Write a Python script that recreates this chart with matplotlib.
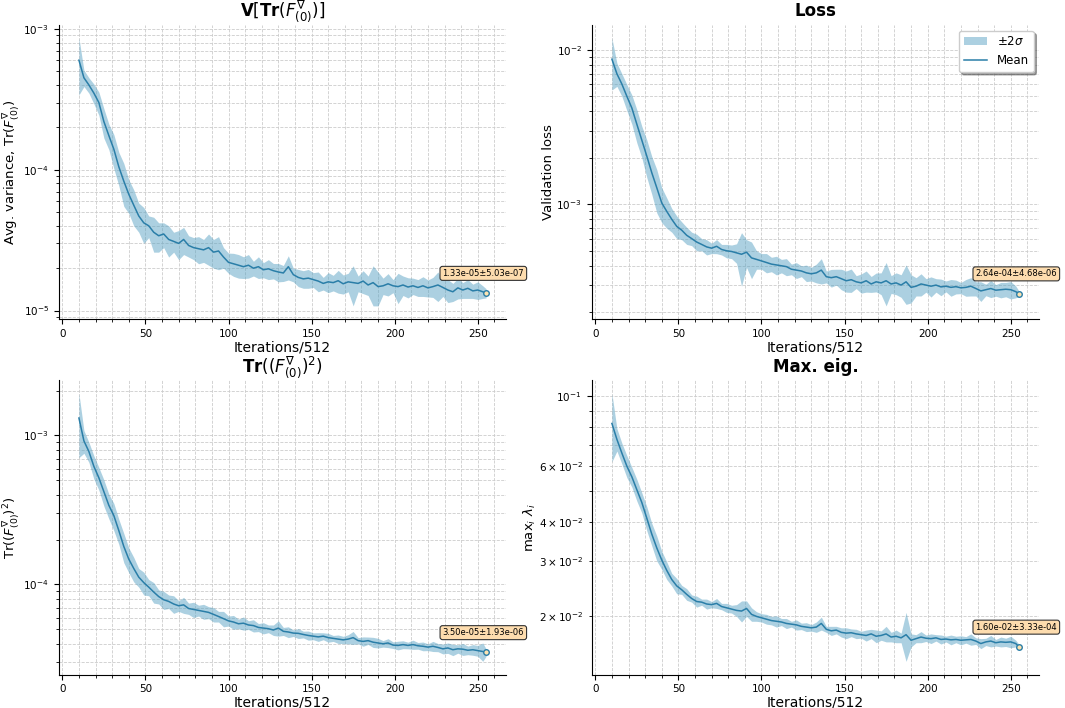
#! /usr/bin/python3

import matplotlib as mpl

## agg backend is used to create plot as a .png file
mpl.use('agg')

import matplotlib.pyplot as plt
from matplotlib.ticker import MultipleLocator
from matplotlib.patches import Patch
from matplotlib.lines import Line2D

iterations = list(range(10, 254, 3)) + [255]

# V[Tr(F)]  (values in 1e-5)
var_mean = [60, 45, 40, 35, 30, 22, 17.5, 14, 10.5, 8.3,
            6.7, 5.6, 4.7, 4.2, 4.0, 3.6, 3.4, 3.5, 3.2, 3.1,
            3.0, 3.2, 2.9, 2.8, 2.75, 2.7, 2.8, 2.6, 2.65, 2.4,
            2.2, 2.15, 2.1, 2.05, 2.1, 2.0, 2.05, 1.95, 1.98, 1.92,
            1.88, 1.85, 2.05, 1.8, 1.72, 1.68, 1.70, 1.66, 1.62, 1.56,
            1.60, 1.58, 1.63, 1.55, 1.60, 1.58, 1.56, 1.62, 1.52, 1.58,
            1.48, 1.50, 1.55, 1.50, 1.48, 1.52, 1.47, 1.50, 1.46, 1.50,
            1.45, 1.48, 1.52, 1.46, 1.40, 1.36, 1.45, 1.40, 1.44, 1.38,
            1.40, 1.36, 1.33]
var_std = [13, 3, 2.5, 2.8, 2.8, 2.6, 1.8, 1.9, 1.4, 1.4,
           0.9, 0.8, 0.55, 0.6, 0.35, 0.5, 0.4, 0.35, 0.4, 0.25,
           0.35, 0.35, 0.25, 0.25, 0.3, 0.25, 0.35, 0.3, 0.35, 0.2,
           0.18, 0.2, 0.2, 0.18, 0.2, 0.12, 0.18, 0.12, 0.16, 0.12,
           0.14, 0.12, 0.2, 0.1, 0.12, 0.12, 0.13, 0.1, 0.13, 0.08,
           0.13, 0.1, 0.15, 0.12, 0.12, 0.25, 0.1, 0.15, 0.12, 0.25,
           0.2, 0.1, 0.14, 0.08, 0.18, 0.12, 0.12, 0.1, 0.1, 0.12,
           0.1, 0.12, 0.18, 0.1, 0.13, 0.1, 0.12, 0.09, 0.11, 0.08,
           0.1, 0.07, 0.05]

# validation loss  (values in 1e-4)
loss_mean = [87, 70, 60, 50, 42, 33, 26, 20.5, 16, 12.8,
             10.2, 9.0, 8.0, 7.2, 6.8, 6.3, 6.0, 5.7, 5.5, 5.3,
             5.2, 5.35, 5.1, 5.0, 4.95, 4.85, 4.75, 4.9, 4.5, 4.4,
             4.3, 4.2, 4.1, 4.05, 4.0, 3.95, 3.8, 3.75, 3.7, 3.6,
             3.55, 3.6, 3.75, 3.4, 3.35, 3.4, 3.3, 3.2, 3.25, 3.15,
             3.1, 3.2, 3.05, 3.15, 3.1, 3.2, 3.05, 3.1, 3.0, 3.15,
             2.9, 2.95, 3.05, 3.0, 2.95, 3.0, 2.92, 2.95, 2.9, 2.93,
             2.88, 2.9, 2.95, 2.85, 2.75, 2.8, 2.85, 2.78, 2.8, 2.82,
             2.8, 2.72, 2.64]
loss_std = [16, 6, 5, 4.8, 4.5, 4.0, 3.0, 2.8, 2.2, 2.0,
            1.3, 1.0, 0.7, 0.6, 0.45, 0.4, 0.3, 0.35, 0.25, 0.3,
            0.2, 0.28, 0.2, 0.25, 0.25, 0.35, 0.9, 0.5, 0.6, 0.3,
            0.25, 0.3, 0.22, 0.28, 0.2, 0.25, 0.15, 0.22, 0.15, 0.22,
            0.18, 0.25, 0.35, 0.15, 0.22, 0.2, 0.25, 0.25, 0.28, 0.15,
            0.22, 0.25, 0.18, 0.22, 0.25, 0.5, 0.2, 0.25, 0.25, 0.45,
            0.3, 0.2, 0.25, 0.15, 0.22, 0.15, 0.18, 0.12, 0.18, 0.15,
            0.12, 0.18, 0.2, 0.15, 0.2, 0.12, 0.18, 0.12, 0.16, 0.15,
            0.18, 0.12, 0.05]

# Tr(F^2)  (values in 1e-5)
trsq_mean = [131, 92, 78, 62, 52, 42, 34, 29, 23, 18,
             14.8, 12.8, 11.2, 10.3, 9.6, 8.9, 8.3, 7.9, 7.7, 7.4,
             7.2, 7.3, 6.9, 6.8, 6.7, 6.6, 6.5, 6.3, 6.1, 5.9,
             5.7, 5.6, 5.45, 5.5, 5.35, 5.3, 5.15, 5.1, 5.05, 4.95,
             5.1, 4.85, 4.8, 4.72, 4.7, 4.62, 4.55, 4.5, 4.45, 4.5,
             4.4, 4.35, 4.3, 4.25, 4.3, 4.4, 4.2, 4.15, 4.2, 4.1,
             4.05, 4.0, 4.05, 3.92, 3.9, 3.95, 3.9, 3.95, 3.88, 3.85,
             3.8, 3.85, 3.78, 3.7, 3.75, 3.65, 3.7, 3.68, 3.62, 3.65,
             3.6, 3.55, 3.5]
trsq_std = [30, 8, 6, 5.5, 4.5, 4.2, 3.2, 3.0, 2.2, 2.0,
            1.4, 1.2, 0.8, 0.9, 0.6, 0.7, 0.45, 0.55, 0.4, 0.5,
            0.3, 0.45, 0.3, 0.4, 0.28, 0.38, 0.3, 0.35, 0.25, 0.35,
            0.22, 0.3, 0.2, 0.28, 0.18, 0.25, 0.16, 0.22, 0.15, 0.2,
            0.3, 0.15, 0.2, 0.12, 0.18, 0.12, 0.16, 0.12, 0.15, 0.12,
            0.15, 0.1, 0.14, 0.12, 0.15, 0.22, 0.1, 0.15, 0.12, 0.16,
            0.15, 0.1, 0.14, 0.1, 0.13, 0.12, 0.1, 0.14, 0.1, 0.13,
            0.1, 0.15, 0.12, 0.14, 0.15, 0.16, 0.12, 0.17, 0.12, 0.15,
            0.15, 0.25, 0.1]

# max eigenvalue  (values in 1e-3)
eig_mean = [82, 73, 66, 60, 55.5, 50.5, 46, 41, 36.5, 33,
            30.2, 28.0, 26.2, 25.0, 24.3, 23.5, 22.8, 22.3, 22.2, 21.9,
            21.8, 22.0, 21.5, 21.3, 21.1, 20.9, 20.8, 21.2, 20.3, 20.0,
            19.8, 19.6, 19.4, 19.3, 19.2, 19.0, 18.9, 18.8, 18.6, 18.5,
            18.4, 18.5, 19.0, 18.2, 18.0, 18.1, 17.8, 17.7, 17.75, 17.6,
            17.5, 17.4, 17.6, 17.3, 17.4, 17.6, 17.2, 17.3, 17.1, 17.5,
            16.8, 17.0, 17.2, 17.05, 17.0, 17.1, 16.9, 16.95, 16.85, 16.9,
            16.8, 16.85, 16.9, 16.7, 16.4, 16.6, 16.7, 16.5, 16.6, 16.55,
            16.6, 16.4, 16.0]
eig_std = [10, 3, 2.5, 2.4, 2.0, 2.0, 1.7, 1.8, 1.5, 1.5,
           1.0, 0.9, 0.6, 0.7, 0.4, 0.5, 0.3, 0.45, 0.25, 0.4,
           0.25, 0.4, 0.25, 0.35, 0.3, 0.45, 0.8, 0.6, 0.5, 0.35,
           0.3, 0.35, 0.3, 0.4, 0.25, 0.35, 0.2, 0.35, 0.22, 0.3,
           0.22, 0.35, 0.45, 0.2, 0.3, 0.25, 0.3, 0.35, 0.25, 0.3,
           0.22, 0.35, 0.3, 0.4, 0.3, 0.5, 0.3, 0.4, 0.3, 1.55,
           0.4, 0.25, 0.35, 0.2, 0.3, 0.2, 0.28, 0.18, 0.3, 0.2,
           0.28, 0.2, 0.35, 0.2, 0.3, 0.22, 0.35, 0.2, 0.3, 0.25,
           0.35, 0.2, 0.15]

annotations = ['1.33e-05\u00b15.03e-07', '2.64e-04\u00b14.68e-06',
               '3.50e-05\u00b11.93e-06', '1.60e-02\u00b13.33e-04']

LINE = '#2a7ea8'
BAND = '#5aa3c4'


def plot_panel(ax, mean, std, scale, title, ylabel, note, legend=False):
    m = [v * scale for v in mean]
    s = [v * scale for v in std]
    lo = [a - 2 * b for a, b in zip(m, s)]
    hi = [a + 2 * b for a, b in zip(m, s)]

    ax.fill_between(iterations, lo, hi, color=BAND, alpha=0.5, linewidth=0)
    ax.plot(iterations, m, color=LINE, linewidth=1.1)
    ax.plot(iterations[-1], m[-1], 'o', ms=4, mfc='#fde3b0', mec=LINE, mew=1)
    ax.annotate(note, (iterations[-1], m[-1]), xytext=(-2, 11),
                textcoords='offset points', ha='center', va='bottom',
                fontsize=6, annotation_clip=False,
                bbox=dict(boxstyle='round,pad=0.3', fc='#fddcae', ec='#333333', lw=0.8))

    ax.set_yscale('log')
    ax.set_title(title, fontsize=12, fontweight='bold')
    ax.set_ylabel(ylabel, fontsize=9.5, labelpad=1)
    ax.set_xlabel('Iterations/512', fontsize=10, labelpad=1)

    ax.xaxis.set_major_locator(MultipleLocator(50))
    ax.xaxis.set_minor_locator(MultipleLocator(10))
    ax.tick_params(which='both', labelsize=7.5)
    ax.grid(which='both', linestyle='--', color='#cccccc', linewidth=0.6)
    ax.set_axisbelow(True)

    # Remove top axes and right axes
    ax.spines['top'].set_visible(False)
    ax.spines['right'].set_visible(False)

    if legend:
        handles = [Patch(facecolor=BAND, alpha=0.5, label=r'$\pm2\sigma$'),
                   Line2D([], [], color=LINE, linewidth=1.1, label='Mean')]
        ax.legend(handles=handles, loc='upper right', fontsize=8.5, fancybox=True, shadow=True)


def main():
    fig, axes = plt.subplots(2, 2, figsize=(10.65, 7.08), dpi=100)
    fig.subplots_adjust(left=0.055, right=0.976, top=0.965, bottom=0.047,
                        wspace=0.19, hspace=0.207)

    plot_panel(axes[0][0], var_mean, var_std, 1e-5,
               r'$\mathbf{V}[\mathbf{Tr}(F^{\nabla}_{(0)})]$',
               r'Avg. variance, Tr$(F^{\nabla}_{(0)})$', annotations[0])
    plot_panel(axes[0][1], loss_mean, loss_std, 1e-4, 'Loss',
               'Validation loss', annotations[1], legend=True)
    plot_panel(axes[1][0], trsq_mean, trsq_std, 1e-5,
               r'$\mathbf{Tr}((F^{\nabla}_{(0)})^2)$',
               r'Tr$((F^{\nabla}_{(0)})^2)$', annotations[2])
    plot_panel(axes[1][1], eig_mean, eig_std, 1e-3, 'Max. eig.',
               r'max$_i\ \lambda_i$', annotations[3])

    fig.savefig('out.png', dpi=100)


if __name__ == "__main__":
    main()
